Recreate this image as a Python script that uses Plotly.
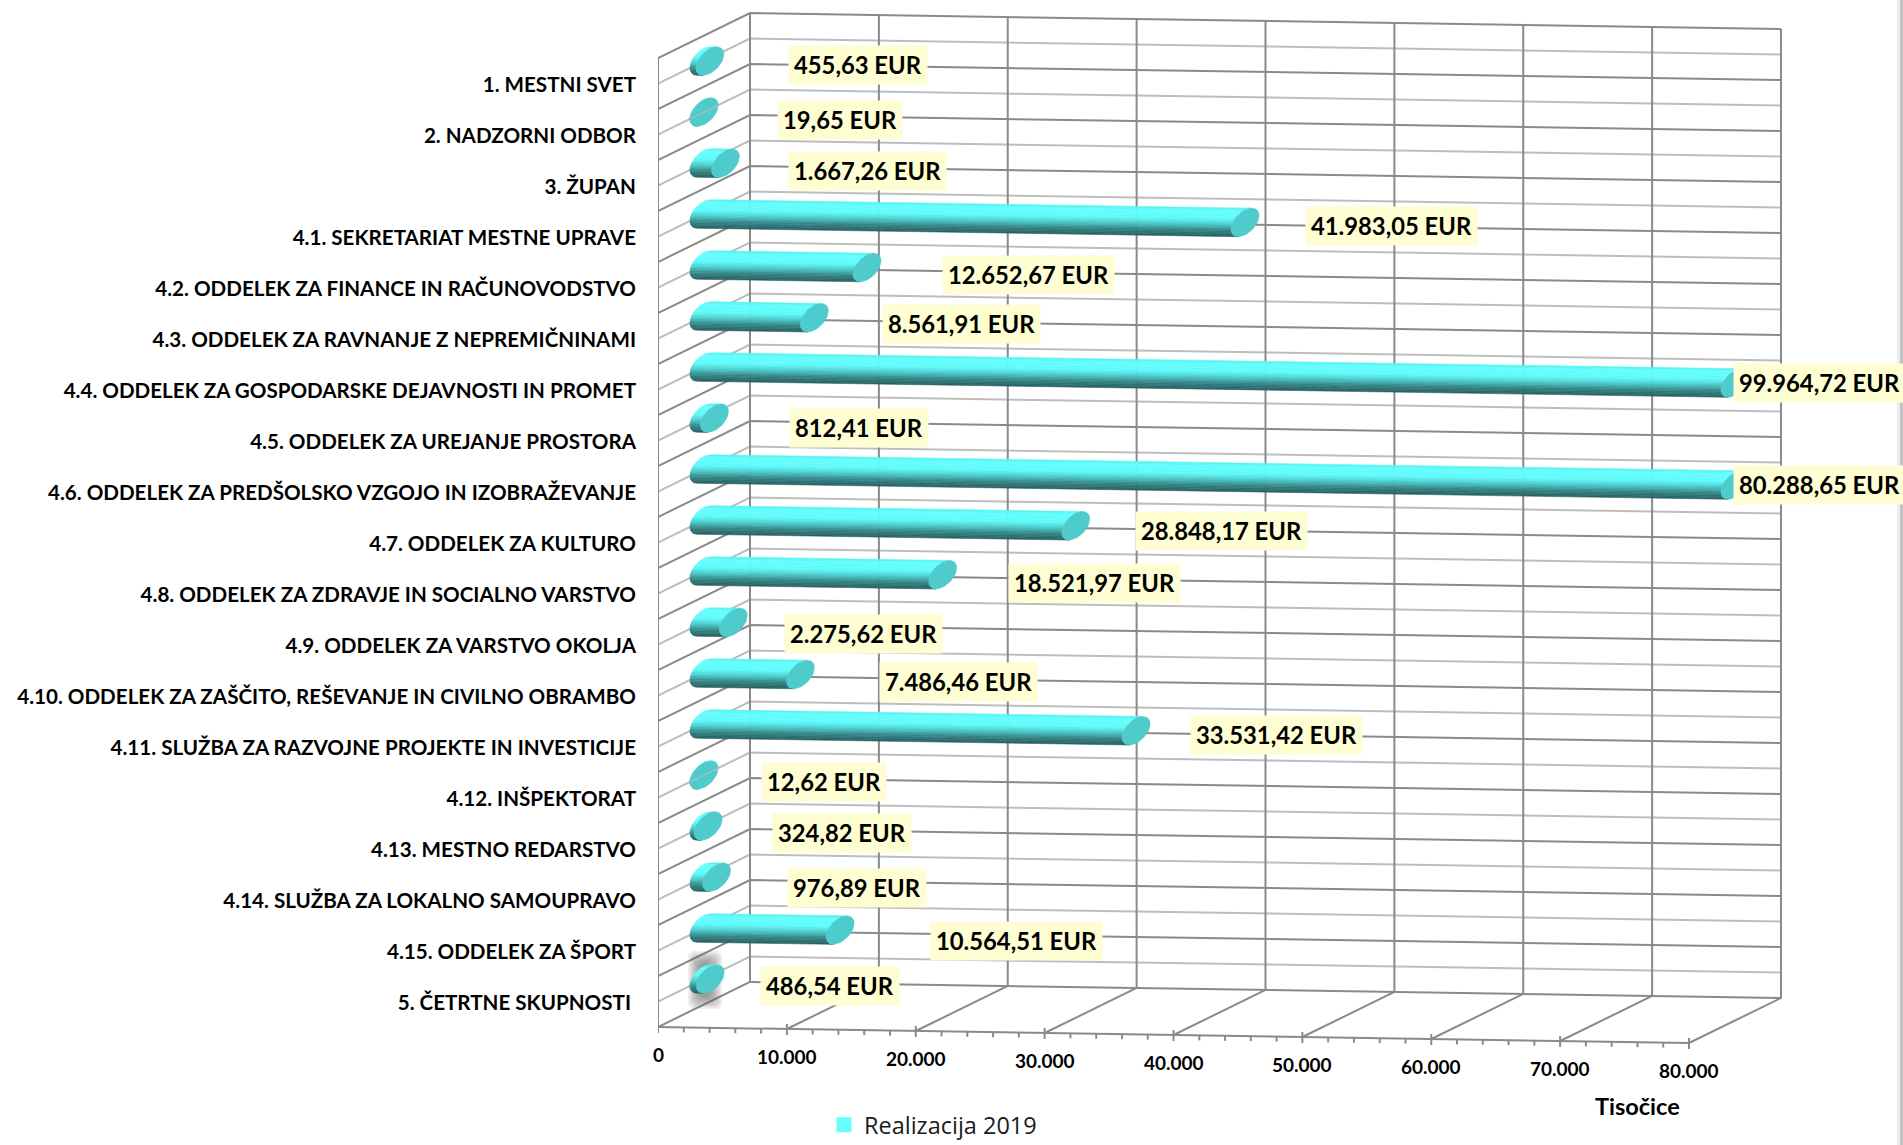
import math
import plotly.graph_objects as go

CATEGORIES = [
    "1. MESTNI SVET", "2. NADZORNI ODBOR", "3. ŽUPAN",
    "4.1. SEKRETARIAT MESTNE UPRAVE",
    "4.2. ODDELEK ZA FINANCE IN RAČUNOVODSTVO",
    "4.3. ODDELEK ZA RAVNANJE Z NEPREMIČNINAMI",
    "4.4. ODDELEK ZA GOSPODARSKE DEJAVNOSTI IN PROMET",
    "4.5. ODDELEK ZA UREJANJE PROSTORA",
    "4.6. ODDELEK ZA PREDŠOLSKO VZGOJO IN IZOBRAŽEVANJE",
    "4.7. ODDELEK ZA KULTURO",
    "4.8. ODDELEK ZA ZDRAVJE IN SOCIALNO VARSTVO",
    "4.9. ODDELEK ZA VARSTVO OKOLJA",
    "4.10. ODDELEK ZA ZAŠČITO, REŠEVANJE IN CIVILNO OBRAMBO",
    "4.11. SLUŽBA ZA RAZVOJNE PROJEKTE IN INVESTICIJE",
    "4.12. INŠPEKTORAT", "4.13. MESTNO REDARSTVO",
    "4.14. SLUŽBA ZA LOKALNO SAMOUPRAVO", "4.15. ODDELEK ZA ŠPORT",
    "5. ČETRTNE SKUPNOSTI\u00a0",
]
VALUES = [455.63, 19.65, 1667.26, 41983.05, 12652.67, 8561.91, 99964.72, 812.41,
          80288.65, 28848.17, 18521.97, 2275.62, 7486.46, 33531.42, 12.62, 324.82,
          976.89, 10564.51, 486.54]
VALUE_LABELS = ["455,63 EUR", "19,65 EUR", "1.667,26 EUR", "41.983,05 EUR", "12.652,67 EUR",
                "8.561,91 EUR", "99.964,72 EUR", "812,41 EUR", "80.288,65 EUR", "28.848,17 EUR",
                "18.521,97 EUR", "2.275,62 EUR", "7.486,46 EUR", "33.531,42 EUR", "12,62 EUR",
                "324,82 EUR", "976,89 EUR", "10.564,51 EUR", "486,54 EUR"]
X_TICKS = [0, 10000, 20000, 30000, 40000, 50000, 60000, 70000, 80000]
X_TICK_LABELS = ["0", "10.000", "20.000", "30.000", "40.000", "50.000", "60.000", "70.000", "80.000"]
X_MAX = 80000
SERIES_NAME = "Realizacija 2019"
AXIS_TITLE = "Tisočice"

# label offsets from the end of each cylinder, pixels
LABEL_DX = [148, 136, 142, 146, 161, 147, 84, 145, 84, 146, 152, 130, 158, 140, 120, 134, 140, 176, 120]
LABEL_DY = [4, 8, 8, 4, 7, 6, 0, 10, 0, 5, 8, 12, 7, 4, 7, 7, 11, 11, 7]

W, H = 1903, 1145
S = 1031 / 80000      # px per EUR
ROW = 51.0            # px per row
SLOPE = 16 / 1031     # fall of horizontal lines
DEPTH_X, DEPTH_Y = 92, 45
FRONT_X, FRONT_TOP = 658, 58
BACK_X, BACK_TOP = 750, 13
N_ROWS = len(CATEGORIES)


def X(px):
    return (px - FRONT_X) / S


def Y(py):
    return (py - 85) / ROW


light_x, light_y, dark_x, dark_y = [], [], [], []


def seg(xs, ys, pts):
    for px, py in pts:
        xs.append(X(px))
        ys.append(Y(py))
    xs.append(None)
    ys.append(None)


wall_w = X_MAX * S
for k in range(2 * N_ROWS):
    yb = BACK_TOP + k * ROW / 2
    yf = FRONT_TOP + k * ROW / 2
    pts = [(FRONT_X, yf), (BACK_X, yb), (BACK_X + wall_w, yb + wall_w * SLOPE)]
    if k % 2 == 0:
        seg(dark_x, dark_y, pts)
    else:
        seg(light_x, light_y, pts)

height = ROW * N_ROWS
for t in X_TICKS:
    off = t * S
    xb = BACK_X + off
    yb = BACK_TOP + off * SLOPE
    seg(dark_x, dark_y, [(xb, yb), (xb, yb + height), (FRONT_X + off, FRONT_TOP + height + off * SLOPE)])
    major_y = FRONT_TOP + height + off * SLOPE
    seg(dark_x, dark_y, [(FRONT_X + off, major_y - 5), (FRONT_X + off, major_y + 6)])
    if t < X_MAX:
        for m in range(1, 5):
            o2 = off + m * 2000 * S
            yy = FRONT_TOP + height + o2 * SLOPE
            seg(dark_x, dark_y, [(FRONT_X + o2, yy), (FRONT_X + o2, yy + 5)])
seg(dark_x, dark_y, [(FRONT_X, FRONT_TOP), (FRONT_X, FRONT_TOP + height)])
seg(dark_x, dark_y, [(FRONT_X, FRONT_TOP + height), (FRONT_X + wall_w, FRONT_TOP + height + wall_w * SLOPE)])
seg(dark_x, dark_y, [(BACK_X, BACK_TOP + height), (BACK_X + wall_w, BACK_TOP + height + wall_w * SLOPE)])

fig = go.Figure()
fig.add_trace(go.Scatter(x=light_x, y=light_y, mode="lines", line=dict(color="#BDBDBD", width=2),
                         showlegend=False, hoverinfo="skip"))
fig.add_trace(go.Scatter(x=dark_x, y=dark_y, mode="lines", line=dict(color="#8A8A8A", width=2),
                         showlegend=False, hoverinfo="skip"))

# soft shadow round the last cap
for i in range(9):
    cx, cy = 705, 980
    dx, dy = 17 - 1.5 * i, 29 - 1.5 * i
    c = 4
    fig.add_trace(go.Scatter(
        x=[X(cx - dx + c), X(cx + dx - c), X(cx + dx), X(cx + dx), X(cx + dx - c), X(cx - dx + c), X(cx - dx), X(cx - dx), X(cx - dx + c)],
        y=[Y(cy - dy), Y(cy - dy), Y(cy - dy + c), Y(cy + dy - c), Y(cy + dy), Y(cy + dy), Y(cy + dy - c), Y(cy - dy + c), Y(cy - dy)],
        mode="lines", fill="toself", fillcolor="rgba(90,90,90,0.09)", line=dict(width=0),
        showlegend=False, hoverinfo="skip"))

# cylinders
A, B, K = 14.0, 12.5, DEPTH_Y / DEPTH_X
CX0 = (FRONT_X + BACK_X) / 2
CY0 = 61.0
half = math.sqrt((K * A) ** 2 + B ** 2)


def left_edge(dy):
    qa = 1 / A ** 2 + (K / B) ** 2
    qb = 2 * dy * K / B ** 2
    qc = (dy / B) ** 2 - 1
    return (-qb - math.sqrt(max(qb * qb - 4 * qa * qc, 0))) / (2 * qa)


STOPS = [(0.0, (84, 240, 240)), (0.12, (100, 255, 255)), (0.38, (96, 250, 250)),
         (0.58, (78, 205, 205)), (0.78, (52, 135, 136)), (1.0, (40, 96, 98))]


def shade(f):
    for (a, ca), (b, cb) in zip(STOPS, STOPS[1:]):
        if f <= b:
            u = (f - a) / (b - a)
            return "rgb(%d,%d,%d)" % tuple(round(p + (q - p) * u) for p, q in zip(ca, cb))
    return "rgb(40,96,98)"


def cap_center(r, v):
    L = min(v, X_MAX) * S
    return L, CX0 + L, CY0 + ROW * r + L * SLOPE


BANDS = 20
for b in range(BANDS):
    d1 = -half + 2 * half * b / BANDS
    d2 = -half + 2 * half * (b + 1) / BANDS
    xs, ys = [], []
    for r, v in enumerate(VALUES):
        L, cx, cy = cap_center(r, v)
        y0 = CY0 + ROW * r
        pts = []
        for j in range(4):
            d = d1 + (d2 - d1) * j / 3
            pts.append((CX0 + left_edge(d), y0 + d))
        for j in range(3, -1, -1):
            d = d1 + (d2 - d1) * j / 3
            pts.append((CX0 + left_edge(d) + L, y0 + d + L * SLOPE))
        pts.append(pts[0])
        seg(xs, ys, pts)
    col = shade((b + 0.5) / BANDS)
    fig.add_trace(go.Scatter(x=xs, y=ys, mode="lines", fill="toself", fillcolor=col,
                             line=dict(color=col, width=0.6), showlegend=False, hoverinfo="skip"))

cap_x, cap_y, over_x, over_y = [], [], [], []
for r, v in enumerate(VALUES):
    L, cx, cy = cap_center(r, v)
    pts = []
    for j in range(49):
        t = 2 * math.pi * j / 48
        ex = A * math.cos(t)
        pts.append((cx + ex, cy - K * ex + B * math.sin(t)))
    seg(cap_x, cap_y, pts)
    if v < 100:  # near-empty bars let the wall line show through
        seg(over_x, over_y, [(cx - A, cy + K * A), (cx + A, cy - K * A)])
fig.add_trace(go.Scatter(x=cap_x, y=cap_y, mode="lines", fill="toself", fillcolor="#4FCBCB",
                         line=dict(color="#4FCBCB", width=0.5), showlegend=False, hoverinfo="skip"))
fig.add_trace(go.Scatter(x=over_x, y=over_y, mode="lines", line=dict(color="#A8BDBD", width=1.6),
                         showlegend=False, hoverinfo="skip"))

fig.add_trace(go.Scatter(x=[None], y=[None], mode="markers", name=SERIES_NAME,
                         marker=dict(symbol="square", size=15, color="#66FFFF"), showlegend=True))

ann = []
BOLD = "Lato"
for r, v in enumerate(VALUES):
    L, cx, cy = cap_center(r, v)
    ann.append(dict(x=X(cx + LABEL_DX[r]), y=Y(cy + LABEL_DY[r]), xref="x", yref="y", text=VALUE_LABELS[r],
                    showarrow=False, bgcolor="#FEFED2", borderpad=5, xanchor="center", yanchor="middle",
                    font=dict(family=BOLD, size=23.8, color="#000000", weight=700)))
for t, lab in zip(X_TICKS, X_TICK_LABELS):
    px = FRONT_X + t * S
    ann.append(dict(x=X(px), y=Y(1054 + t * S * SLOPE), xref="x", yref="y", text=lab, showarrow=False,
                    xanchor="center", yanchor="middle", font=dict(family=BOLD, size=19, color="#000000", weight=700)))
ann.append(dict(x=X(1637), y=Y(1106), xref="x", yref="y", text=AXIS_TITLE, showarrow=False,
                xanchor="center", yanchor="middle", font=dict(family=BOLD, size=23.5, color="#000000", weight=700)))

shapes = [
    dict(type="rect", xref="paper", yref="paper", x0=1897 / W, x1=1900 / W, y0=0, y1=1, line_width=0, fillcolor="#EDEDED"),
    dict(type="rect", xref="paper", yref="paper", x0=1900 / W, x1=1, y0=0, y1=1, line_width=0, fillcolor="#C4C4C4"),
]

fig.update_layout(
    width=W, height=H, margin=dict(l=0, r=0, t=0, b=0, autoexpand=False),
    paper_bgcolor="white", plot_bgcolor="rgba(0,0,0,0)", hovermode=False,
    annotations=ann, shapes=shapes,
    xaxis=dict(domain=[FRONT_X / W, 1], range=[0, X(W)], visible=False, fixedrange=True),
    yaxis=dict(domain=[0, 1], range=[Y(H), Y(0)], tickmode="array", tickvals=list(range(N_ROWS)),
               ticktext=CATEGORIES, showgrid=False, zeroline=False, showline=False, ticks="",
               ticklabelstandoff=21, automargin=False, fixedrange=True,
               tickfont=dict(family=BOLD, size=20.6, color="#000000", weight=700)),
    legend=dict(x=824 / W, y=1 - 1125 / H, xanchor="left", yanchor="middle", bgcolor="rgba(0,0,0,0)",
                font=dict(family="Open Sans", size=23.5, color="#1A1A1A"), itemwidth=30),
)
fig.write_html("out.html", config={"displayModeBar": False},
               post_script="document.body.style.margin='0';document.body.style.overflow='hidden';")
